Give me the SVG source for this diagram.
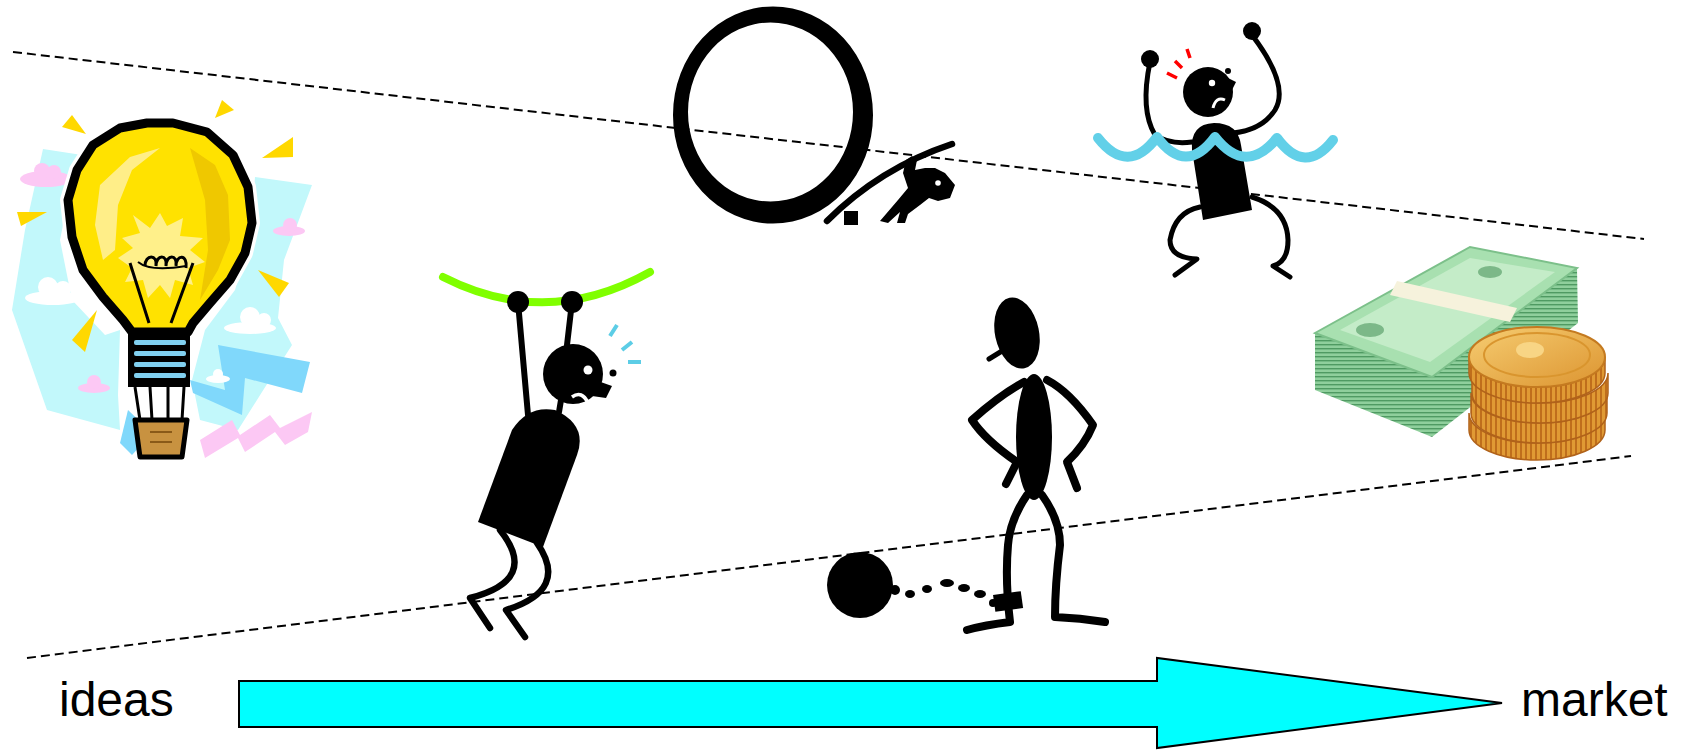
<svg xmlns="http://www.w3.org/2000/svg" width="1688" height="750" viewBox="0 0 1688 750">
  <style>
    .dash { stroke: #000; stroke-width: 2; stroke-dasharray: 9 5; fill: none; }
    .ink { fill: #000; }
    .limb { fill: none; stroke: #000; stroke-linecap: round; stroke-linejoin: round; }
    .label { font-family: "Liberation Sans", Arial, sans-serif; font-size: 48px; fill: #000; }
    .tri { fill: #ffd800; }
    .cloudP { fill: #fcc8f4; }
    .cloudW { fill: #ffffff; }
    .coinSide { fill: url(#ridges); stroke: #b0621a; stroke-width: 1.5; }
  </style>
  <defs>
    <linearGradient id="coinFace" x1="0" y1="0" x2="1" y2="1">
      <stop offset="0" stop-color="#f6cd72"/>
      <stop offset="1" stop-color="#dc9430"/>
    </linearGradient>
    <pattern id="ridges" width="5" height="20" patternUnits="userSpaceOnUse">
      <rect width="5" height="20" fill="#e09a34"/>
      <rect width="2" height="20" fill="#bf6e1c"/>
    </pattern>
    <pattern id="sheets" width="10" height="4" patternUnits="userSpaceOnUse">
      <rect width="10" height="4" fill="#8fcf9c"/>
      <rect width="10" height="1.4" fill="#4f9a62"/>
    </pattern>
  </defs>

  <rect width="1688" height="750" fill="#fff"/>

  <!-- guide lines -->
  <g id="guides">
    <line class="dash" x1="13" y1="52" x2="1644" y2="239"/>
    <line class="dash" x1="27" y1="658" x2="1631" y2="456"/>
  </g>

  <!-- light bulb -->
  <g id="bulb">
    <polygon fill="#c2f8fb" points="43,149 82,155 70,190 60,240 72,300 105,335 120,330 118,395 120,430 47,410 12,310 25,230"/>
    <polygon fill="#c2f8fb" points="255,177 312,185 284,260 278,318 292,345 262,392 238,430 200,420 192,380 205,330 235,290 250,240"/>
    <polygon fill="#80d8fb" points="218,345 310,362 302,393 245,378 242,415 193,393 190,380 225,390"/>
    <polygon fill="#80d8fb" points="128,410 152,433 132,455 120,443"/>
    <polygon fill="#fcc8f4" points="200,440 232,420 240,435 270,415 280,428 312,412 308,432 285,445 275,432 245,452 238,438 205,458"/>
    <g>
      <ellipse class="cloudP" cx="46" cy="179" rx="26" ry="8"/>
      <circle class="cloudP" cx="42" cy="171" r="8"/>
      <circle class="cloudP" cx="54" cy="172" r="7"/>
      <ellipse class="cloudP" cx="289" cy="231" rx="16" ry="5"/>
      <circle class="cloudP" cx="290" cy="225" r="7"/>
      <ellipse class="cloudP" cx="94" cy="388" rx="16" ry="5"/>
      <circle class="cloudP" cx="94" cy="382" r="7"/>
      <ellipse class="cloudW" cx="53" cy="298" rx="28" ry="7"/>
      <circle class="cloudW" cx="48" cy="287" r="10"/>
      <circle class="cloudW" cx="63" cy="289" r="8"/>
      <ellipse class="cloudW" cx="250" cy="328" rx="26" ry="6"/>
      <circle class="cloudW" cx="250" cy="317" r="10"/>
      <circle class="cloudW" cx="264" cy="320" r="7"/>
      <ellipse class="cloudW" cx="218" cy="379" rx="12" ry="4"/>
      <circle class="cloudW" cx="218" cy="374" r="5"/>
    </g>
    <polygon class="tri" points="62,127 86,134 72,115"/>
    <polygon class="tri" points="215,118 234,110 222,100"/>
    <polygon class="tri" points="262,158 293,157 293,137"/>
    <polygon class="tri" points="17,212 47,212 21,226"/>
    <polygon class="tri" points="258,270 289,283 279,297"/>
    <polygon class="tri" points="72,340 97,310 85,352"/>
    <!-- glass -->
    <path d="M147,123 L173,123 L207,132 L233,155 L248,187 L252,223 L245,253 L230,280 L210,303 L193,323 L188,332 L132,332 L123,320 L103,297 L83,270 L72,237 L68,200 L77,170 L93,145 L120,128 Z" fill="#fff" stroke="#fff" stroke-width="16" stroke-linejoin="round"/>
    <path d="M147,123 L173,123 L207,132 L233,155 L248,187 L252,223 L245,253 L230,280 L210,303 L193,323 L188,332 L132,332 L123,320 L103,297 L83,270 L72,237 L68,200 L77,170 L93,145 L120,128 Z" fill="#ffe200" stroke="#000" stroke-width="9" stroke-linejoin="round"/>
    <path d="M100,185 L130,157 L160,148 L132,170 L118,205 L115,250 L103,260 L95,225 Z" fill="#ffee88"/>
    <path d="M190,148 L215,165 L228,195 L230,240 L218,270 L200,300 L208,250 L205,200 Z" fill="#efc800"/>
    <polygon fill="#fff08a" points="133,215 150,228 160,213 167,226 183,218 180,236 203,238 190,250 205,262 188,268 193,285 175,280 170,298 160,285 148,298 143,280 125,282 132,268 118,258 133,248 122,238 140,233"/>
    <path d="M145,266 c0,-12 13,-12 11,0 c0,-12 12,-12 10,0 c0,-12 12,-12 10,0 c0,-12 12,-12 10,2" fill="none" stroke="#000" stroke-width="3"/>
    <path d="M138,262 Q150,272 186,266" fill="none" stroke="#000" stroke-width="2"/>
    <path d="M130,263 L149,323 M193,263 L171,323" stroke="#000" stroke-width="3"/>
    <!-- screw base -->
    <path d="M128,333 H190 V387 H128 Z" fill="#000"/>
    <rect x="134" y="340" width="52" height="5" rx="2" fill="#80d0f0"/>
    <rect x="134" y="351" width="52" height="5" rx="2" fill="#80d0f0"/>
    <rect x="134" y="362" width="52" height="5" rx="2" fill="#80d0f0"/>
    <rect x="134" y="373" width="52" height="5" rx="2" fill="#80d0f0"/>
    <!-- basket -->
    <path d="M135,387 L140,420 M150,387 L152,420 M168,387 L168,420 M184,387 L182,420" stroke="#000" stroke-width="3"/>
    <path d="M135,420 H187 L182,457 H140 Z" fill="#c89240" stroke="#000" stroke-width="5" stroke-linejoin="round"/>
    <path d="M150,432 H172 M150,442 H172" stroke="#8a5a18" stroke-width="2"/>
  </g>

  <!-- figure hanging from a bar -->
  <g id="hanging">
    <path d="M443,277 Q547,330 650,272" fill="none" stroke="#80ff00" stroke-width="8" stroke-linecap="round"/>
    <line class="limb" x1="518" y1="302" x2="528" y2="415" stroke-width="6"/>
    <line class="limb" x1="572" y1="302" x2="567" y2="345" stroke-width="6"/>
    <circle class="ink" cx="518" cy="302" r="11"/>
    <circle class="ink" cx="572" cy="302" r="11"/>
    <circle class="ink" cx="573" cy="374" r="30"/>
    <path class="ink" d="M595,380 L612,386 L606,398 L592,396 Z"/>
    <line class="limb" x1="561" y1="400" x2="559" y2="412" stroke-width="6"/>
    <circle cx="588" cy="370" r="4.5" fill="#fff"/>
    <path d="M572,397 Q582,390 588,403" fill="none" stroke="#fff" stroke-width="3.5"/>
    <circle class="ink" cx="613" cy="373" r="3.5"/>
    <path d="M610,336 L617,325 M622,350 L632,342 M628,362 L641,362" stroke="#5ccde6" stroke-width="4"/>
    <path class="ink" d="M478,522 L512,430 Q528,405 555,410 Q588,425 577,455 L543,547 Z"/>
    <path class="limb" d="M500,530 Q540,580 470,598 L490,628" stroke-width="6.5"/>
    <path class="limb" d="M537,543 Q570,590 506,610 L525,637" stroke-width="6.5"/>
  </g>

  <!-- loop and pole vaulter -->
  <g id="loop">
    <path class="ink" fill-rule="evenodd" d="M673,115 a100,108.5 0 1,0 200,0 a100,108.5 0 1,0 -200,0 Z M688,112 a82.5,89.5 0 1,0 165,0 a82.5,89.5 0 1,0 -165,0 Z"/>
    <path class="limb" d="M827,221 Q880,168 952,144" stroke-width="6.5"/>
    <rect class="ink" x="844" y="211" width="14" height="14"/>
    <path class="ink" d="M912,156 L917,160 L915,170 L925,168 L935,168 L945,173 L955,185 L950,198 L938,201 L929,198 L920,205 L908,214 L905,223 L897,223 L900,212 L888,223 L880,221 L898,200 L908,188 L903,173 L906,160 Z"/>
    <circle cx="938" cy="183" r="2.8" fill="#fff"/>
  </g>

  <!-- figure in the waves -->
  <g id="drowning">
    <path class="limb" d="M1150,62 Q1140,110 1155,135 Q1170,145 1192,142" stroke-width="5"/>
    <path class="limb" d="M1252,35 Q1290,85 1275,110 Q1262,130 1233,133" stroke-width="5"/>
    <circle class="ink" cx="1150" cy="59" r="9"/>
    <circle class="ink" cx="1252" cy="31" r="9"/>
    <circle class="ink" cx="1208" cy="92" r="25"/>
    <path class="ink" d="M1228,78 L1236,82 L1232,90 L1224,92 Z"/>
    <circle cx="1212" cy="83" r="3.2" fill="#fff"/>
    <path d="M1213,108 Q1216,96 1225,100" fill="none" stroke="#fff" stroke-width="3"/>
    <circle class="ink" cx="1228" cy="71" r="3"/>
    <path d="M1167,73 L1177,78 M1175,61 L1182,68 M1187,49 L1190,58" stroke="#ff0000" stroke-width="3.5"/>
    <path class="ink" d="M1203,220 L1192,150 Q1190,124 1214,123 Q1238,123 1241,145 L1252,210 Z"/>
    <path class="limb" d="M1200,207 Q1175,212 1170,240 Q1170,258 1197,259 L1175,275" stroke-width="5"/>
    <path class="limb" d="M1252,197 Q1287,208 1288,240 Q1288,262 1273,266 L1290,277" stroke-width="5"/>
    <path d="M1098,138 Q1128,176 1157,137 Q1186,176 1215,137 Q1246,176 1277,138 Q1305,176 1333,140" fill="none" stroke="#62d0e8" stroke-width="10" stroke-linecap="round" stroke-linejoin="round"/>
  </g>

  <!-- figure with ball and chain -->
  <g id="prisoner">
    <ellipse class="ink" cx="1017" cy="333" rx="22" ry="36" transform="rotate(-12 1017 333)"/>
    <path class="limb" d="M989,359 L1002,351" stroke-width="5"/>
    <ellipse class="ink" cx="1034" cy="437" rx="18" ry="63"/>
    <path class="limb" d="M1024,382 Q1000,395 972,420 Q985,440 1017,462 L1006,484" stroke-width="8"/>
    <path class="limb" d="M1047,380 Q1070,392 1093,425 Q1085,445 1067,462 L1077,488" stroke-width="8"/>
    <path class="limb" d="M1027,495 Q1010,520 1008,545 Q1005,580 1010,622 Q985,625 967,630" stroke-width="8"/>
    <path class="limb" d="M1042,495 Q1060,520 1060,545 Q1055,585 1055,617 Q1080,618 1105,622" stroke-width="8"/>
    <rect class="ink" x="994" y="593" width="28" height="17" transform="rotate(-8 1008 601)"/>
    <circle class="ink" cx="860" cy="585" r="33"/>
    <circle class="ink" cx="895" cy="590" r="5"/>
    <ellipse class="ink" cx="910" cy="594" rx="5" ry="4"/>
    <ellipse class="ink" cx="927" cy="589" rx="5" ry="4"/>
    <ellipse class="ink" cx="947" cy="583" rx="7" ry="4"/>
    <ellipse class="ink" cx="964" cy="588" rx="6" ry="4"/>
    <ellipse class="ink" cx="980" cy="594" rx="6" ry="4"/>
    <ellipse class="ink" cx="993" cy="603" rx="4" ry="4"/>
  </g>

  <!-- money -->
  <g id="money">
    <polygon fill="url(#sheets)" points="1315,333 1432,377 1432,437 1315,390"/>
    <polygon fill="url(#sheets)" points="1432,377 1577,268 1578,323 1432,437"/>
    <polygon fill="#a8e0b0" stroke="#7cc08a" stroke-width="2" points="1315,333 1470,247 1577,268 1432,377"/>
    <polygon fill="#c4ecc8" points="1340,330 1470,258 1555,272 1430,362"/>
    <ellipse cx="1370" cy="330" rx="14" ry="7" fill="#7cb888"/>
    <ellipse cx="1490" cy="272" rx="12" ry="6" fill="#7cb888"/>
    <polygon fill="#f6f2dc" points="1397,281 1517,308 1510,322 1390,295"/>
    <!-- coin stack, bottom coin first -->
    <path class="coinSide" d="M1469,413 A68,30 0 0,0 1605,413 V430 A68,30 0 0,1 1469,430 Z"/>
    <path class="coinSide" d="M1471,393 A68,30 0 0,0 1607,393 V413 A68,30 0 0,1 1471,413 Z"/>
    <path class="coinSide" d="M1472,373 A68,30 0 0,0 1608,373 V393 A68,30 0 0,1 1472,393 Z"/>
    <path class="coinSide" d="M1469,357 A68,30 0 0,0 1605,357 V373 A68,30 0 0,1 1469,373 Z"/>
    <ellipse cx="1537" cy="357" rx="68" ry="30" fill="url(#coinFace)" stroke="#c47a20" stroke-width="2"/>
    <ellipse cx="1537" cy="355" rx="53" ry="22" fill="none" stroke="#d9952e" stroke-width="2"/>
    <ellipse cx="1530" cy="350" rx="14" ry="8" fill="#f8d585"/>
  </g>

  <!-- flow arrow and labels -->
  <g id="flow">
    <polygon points="239,681 1157,681 1157,658 1502,703 1157,748 1157,727 239,727" fill="#00ffff" stroke="#000" stroke-width="2" stroke-linejoin="miter"/>
    <text class="label" x="59" y="716">ideas</text>
    <text class="label" x="1521" y="716">market</text>
  </g>
</svg>
